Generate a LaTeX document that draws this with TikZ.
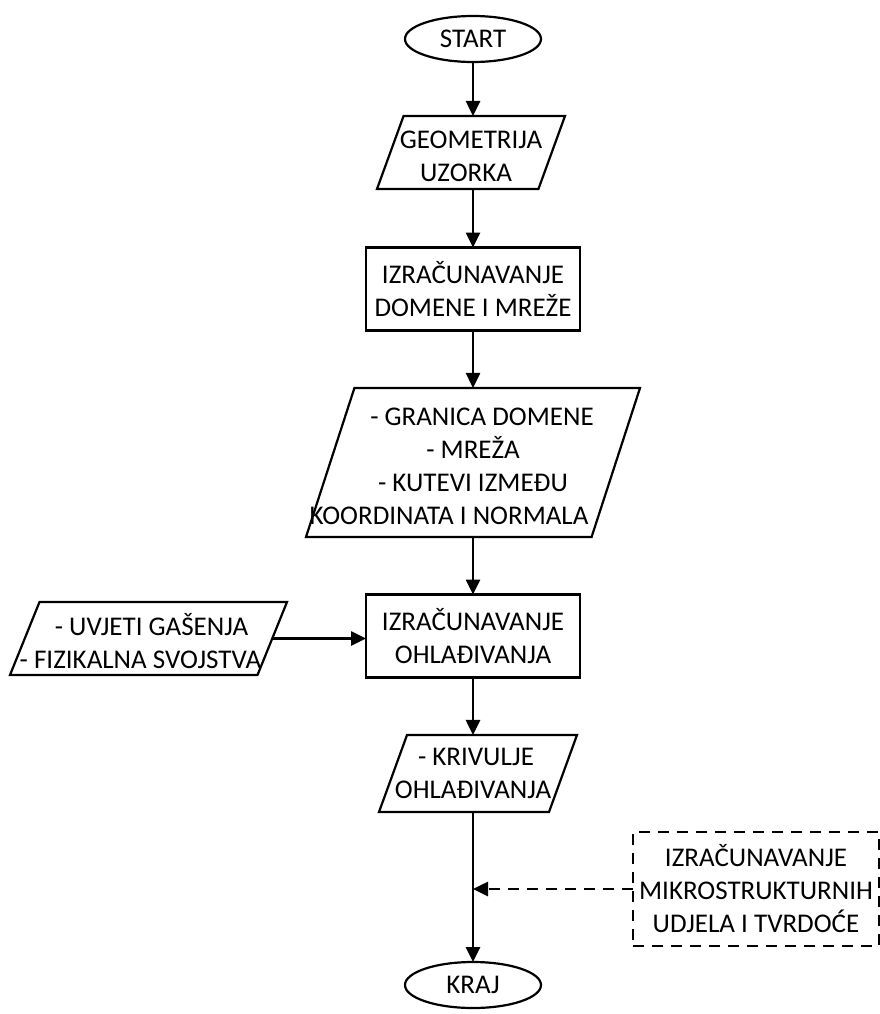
\documentclass[tikz,border=0pt]{standalone}
\usepackage{fontspec}
\setmainfont{Carlito}
\usetikzlibrary{shapes.geometric,arrows.meta}

\begin{document}
\begin{tikzpicture}[x=1pt,y=-1pt,>={Triangle[length=15pt,width=14pt]},
	every node/.style={font=\fontsize{27}{33}\selectfont,align=center,inner sep=1pt,outer sep=0pt,line width=2.2pt},
	term/.style={draw,ellipse,minimum width=136pt,minimum height=46pt},
	proc/.style={draw,rectangle,minimum width=214pt,minimum height=83pt},
	io/.style={draw,trapezium,trapezium left angle=70,trapezium right angle=110,trapezium stretches body,inner sep=0pt},
	flow/.style={->,line width=2.6pt}]
			
			\useasboundingbox (0,0) rectangle (880,1014);
			
			\node[term] (start) at (473,39) {START};
			\node[io,minimum width=188pt,label={[yshift=-4pt]center:{GEOMETRIJA\\UZORKA\hspace*{10pt}}}] (geo) at (471,152.5) {\rule{0pt}{73pt}};
			\node[proc] (mesh) at (473,289) {IZRAČUNAVANJE\\DOMENE I MREŽE};
			\node[io,trapezium left angle=72,trapezium right angle=108,minimum width=334pt,label={[yshift=-4pt]center:{\hspace*{18pt}- GRANICA DOMENE\\- MREŽA\\- KUTEVI IZMEĐU\hspace*{16pt}\\KOORDINATA I NORMALA\hspace*{48pt}}}] (dat) at (473,462.5) {\rule{0pt}{149pt}};
			\node[proc] (cool) at (473,636) {IZRAČUNAVANJE\\OHLAĐIVANJA};
			\node[io,trapezium left angle=68,trapezium right angle=112,minimum width=277pt,label={[yshift=-3pt]center:{\hspace*{6pt}- UVJETI GAŠENJA\\- FIZIKALNA SVOJSTVA\hspace*{16pt}}}] (bc) at (148.5,638.5) {\rule{0pt}{73pt}};
			\node[io,minimum width=198pt,label={[xshift=-5pt]center:{\hspace*{6pt}- KRIVULJE\\OHLAĐIVANJA}}] (crv) at (478,773.5) {\rule{0pt}{77pt}};
			\node[draw,dash pattern=on 11pt off 8pt,inner sep=0pt,minimum width=246pt,minimum height=114pt] (micro) at (756,889) {IZRAČUNAVANJE\\MIKROSTRUKTURNIH\\UDJELA I TVRDOĆE};
			\node[term] (kraj) at (473,985) {KRAJ};
			
			\draw[flow] (start) -- (start |- geo.north);
			\draw[flow] (geo.south -| mesh) -- (mesh);
			\draw[flow] (mesh) -- (dat);
			\draw[flow] (dat) -- (cool);
			\draw[flow] (bc.east) -- (bc.east -| cool.west);
			\draw[flow] (cool) -- (cool |- crv.north);
			\draw[flow] (crv.south -| kraj) -- (kraj);
			\draw[flow,dash pattern=on 11pt off 8pt] (micro.west) -- (micro.west -| kraj);
			
\end{tikzpicture}
\end{document}
